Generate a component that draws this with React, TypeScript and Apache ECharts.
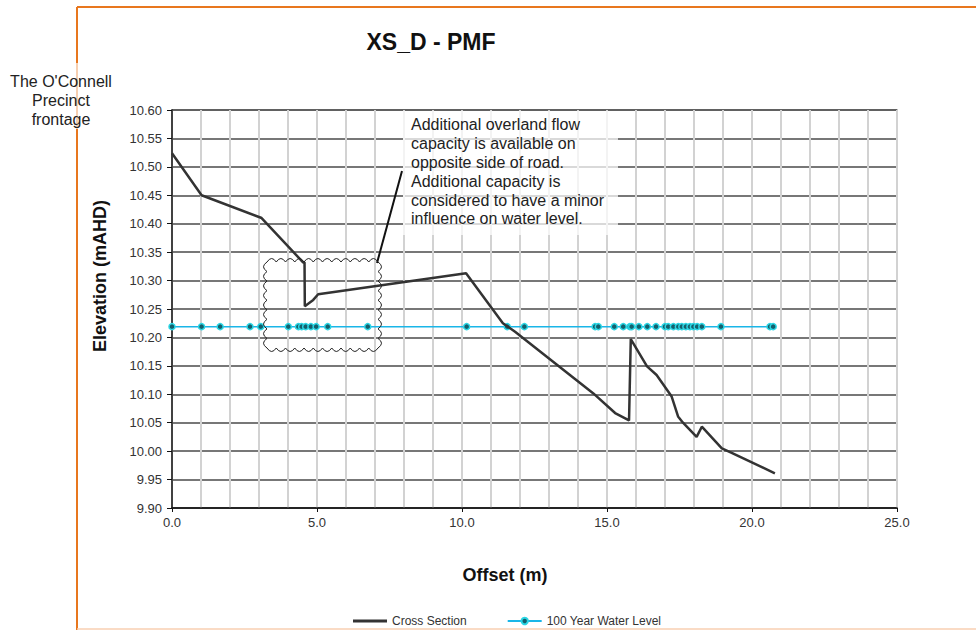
import React, { useEffect, useRef } from "react";
import * as echarts from "echarts";

// ---- data ----
const csX = [0, 1.02, 3.09, 4.52, 4.57, 4.58, 4.87, 5.04, 10.14, 11.41, 11.83, 14.52, 15.28, 15.76, 15.82, 16.38, 16.71, 17.23, 17.45, 17.62, 18.09, 18.27, 18.96, 19.3, 20.79];
const csY = [10.524, 10.45, 10.41, 10.332, 10.332, 10.255, 10.266, 10.276, 10.313, 10.225, 10.21, 10.102, 10.067, 10.054, 10.197, 10.149, 10.134, 10.096, 10.061, 10.05, 10.025, 10.043, 10.005, 9.997, 9.961];
const waterX = [0, 1.02, 1.66, 2.69, 3.06, 4.01, 4.36, 4.47, 4.61, 4.79, 4.97, 5.37, 6.75, 10.16, 11.56, 12.15, 14.59, 14.7, 15.25, 15.56, 15.79, 15.85, 16.1, 16.39, 16.69, 17.0, 17.11, 17.29, 17.46, 17.58, 17.72, 17.86, 17.98, 18.11, 18.27, 18.93, 20.62, 20.73];
const WATER_LEVEL = 10.219;
const seriesNames = ["Cross Section", "100 Year Water Level"];
const titleText = "XS_D - PMF";
const yAxisName = "Elevation (mAHD)";
const xAxisName = "Offset (m)";
const sideNote = "The O'Connell\nPrecinct\nfrontage";
const annotation = "Additional overland flow\ncapacity is available on\nopposite side of road.\nAdditional capacity is\nconsidered to have a minor\ninfluence on water level.";

const FONT = "'Liberation Sans', Arial, sans-serif";

function cloudPath(x0: number, y0: number, x1: number, y1: number, bw: number, amp: number): string {
  const nx = Math.max(1, Math.round((x1 - x0) / bw));
  const ny = Math.max(1, Math.round((y1 - y0) / bw));
  const wx = (x1 - x0) / nx;
  const wy = (y1 - y0) / ny;
  let d = `M${x0} ${y0}`;
  for (let i = 0; i < nx; i++) d += ` Q${x0 + (i + 0.5) * wx} ${y0 - amp} ${x0 + (i + 1) * wx} ${y0}`;
  for (let i = 0; i < ny; i++) d += ` Q${x1 + amp} ${y0 + (i + 0.5) * wy} ${x1} ${y0 + (i + 1) * wy}`;
  for (let i = 0; i < nx; i++) d += ` Q${x1 - (i + 0.5) * wx} ${y1 + amp} ${x1 - (i + 1) * wx} ${y1}`;
  for (let i = 0; i < ny; i++) d += ` Q${x0 - amp} ${y1 - (i + 0.5) * wy} ${x0} ${y1 - (i + 1) * wy}`;
  return d + " Z";
}

let registered = false;

export default function App() {
  const ref = useRef<HTMLDivElement>(null);
  useEffect(() => {
    if (!ref.current) return;
    if (!registered) {
      echarts.graphic.registerShape("cloud", echarts.graphic.extendPath(cloudPath(267, 262, 378, 348, 9.3, 7), {}) as any);
      registered = true;
    }
    const chart = echarts.init(ref.current, null, { renderer: "svg" });
    const csData = csX.map((x, i) => [x, csY[i]]);
    const wData = waterX.map((x) => [x, WATER_LEVEL]);
    chart.setOption({
      animation: false,
      backgroundColor: "#ffffff",
      textStyle: { fontFamily: FONT },
      grid: {
        left: 172, right: 79, top: 110, bottom: 122,
        show: true, borderColor: "#8c8c8c", borderWidth: 1.5, backgroundColor: "transparent",
      },
      legend: {
        left: 348, top: 610, itemWidth: 34, itemHeight: 8, itemGap: 40,
        symbolKeepAspect: true,
        textStyle: { fontSize: 12, color: "#333", fontFamily: FONT },
        data: [
          { name: seriesNames[0], icon: "path://M0 0 L36 0 L36 3 L0 3 Z" },
          { name: seriesNames[1] },
        ],
      },
      xAxis: {
        type: "value", min: 0, max: 25, interval: 5,
        axisLine: { show: true, onZero: false, lineStyle: { color: "#111", width: 1.5 } },
        axisTick: { show: true, length: 4, lineStyle: { color: "#111" } },
        axisLabel: { fontSize: 13, color: "#333", margin: 8, formatter: (v: number) => v.toFixed(1) },
        splitLine: { show: true, lineStyle: { color: "#d2d2d2", width: 2 } },
        minorTick: { show: false, splitNumber: 5 },
        minorSplitLine: { show: true, lineStyle: { color: "#d2d2d2", width: 2 } },
      },
      yAxis: {
        type: "value", min: 9.9, max: 10.6, interval: 0.05,
        axisLine: { show: true, onZero: false, lineStyle: { color: "#111", width: 1.5 } },
        axisTick: { show: true, length: 5, lineStyle: { color: "#111" } },
        axisLabel: { fontSize: 13, color: "#333", margin: 10, formatter: (v: number) => v.toFixed(2) },
        splitLine: { show: true, lineStyle: { color: "#4a4a4a", width: 1.5 } },
      },
      series: [
        {
          name: seriesNames[0], type: "line", data: csData, symbol: "none", z: 3,
          lineStyle: { color: "#333333", width: 2.5 }, itemStyle: { color: "#333333" },
        },
        {
          name: seriesNames[1], type: "line", data: wData, symbol: "circle", symbolSize: 6, z: 2,
          lineStyle: { color: "#1ab6e8", width: 1.5 },
          itemStyle: { color: "#155f6c", borderColor: "#2bd6e4", borderWidth: 1.5 },
        },
      ],
      graphic: [
        { type: "line", z: 10, shape: { x1: 77, y1: 7, x2: 976, y2: 7 }, style: { stroke: "#e8771e", lineWidth: 2 } },
        { type: "line", z: 10, shape: { x1: 77, y1: 7, x2: 77, y2: 630 }, style: { stroke: "#e8771e", lineWidth: 2 } },
        { type: "line", z: 10, shape: { x1: 77, y1: 629, x2: 976, y2: 629 }, style: { stroke: "#f8cfb2", lineWidth: 1.5 } },
        { type: "rect", z: 11, shape: { x: 6, y: 63, width: 110, height: 66 }, style: { fill: "rgba(255,255,255,0.65)" } },
        {
          type: "text", z: 12, x: 61, y: 71.5,
          style: { text: sideNote, fill: "#222", font: `16px ${FONT}`, align: "center", verticalAlign: "top", lineHeight: 19.2 },
        },
        {
          type: "text", z: 12, x: 431, y: 42,
          style: { text: titleText, fill: "#111", font: `bold 23px ${FONT}`, align: "center", verticalAlign: "middle" },
        },
        {
          type: "text", z: 12, x: 100, y: 276, rotation: Math.PI / 2,
          style: { text: yAxisName, fill: "#111", font: `bold 18px ${FONT}`, align: "center", verticalAlign: "middle" },
        },
        {
          type: "text", z: 12, x: 505, y: 575,
          style: { text: xAxisName, fill: "#111", font: `bold 18px ${FONT}`, align: "center", verticalAlign: "middle" },
        },
        { type: "rect", z: 11, shape: { x: 403, y: 111, width: 215, height: 124 }, style: { fill: "rgba(255,255,255,0.72)" } },
        {
          type: "text", z: 12, x: 411, y: 115.5,
          style: { text: annotation, fill: "#222", font: `16px ${FONT}`, align: "left", verticalAlign: "top", lineHeight: 18.8 },
        },
        { type: "line", z: 12, shape: { x1: 377, y1: 263, x2: 402, y2: 171 }, style: { stroke: "#111", lineWidth: 2 } },
        { type: "cloud", z: 12, x: 0, y: 0, style: { fill: "none", stroke: "#222", lineWidth: 1 } },
      ],
    });
    return () => chart.dispose();
  }, []);
  return <div ref={ref} style={{ width: 976, height: 630, position: "absolute", left: 0, top: 0 }} />;
}
